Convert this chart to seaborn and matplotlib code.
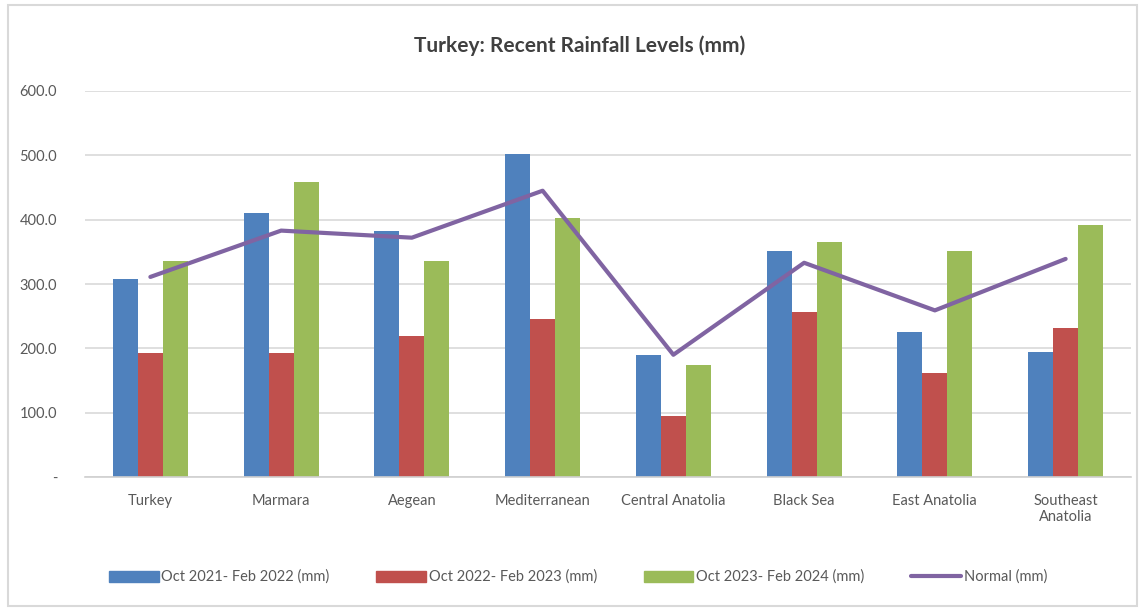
import pandas as pd
import seaborn as sns
import matplotlib.pyplot as plt
from matplotlib.patches import Patch, Rectangle
from matplotlib.lines import Line2D

regions = ["Turkey", "Marmara", "Aegean", "Mediterranean", "Central Anatolia",
           "Black Sea", "East Anatolia", "Southeast\nAnatolia"]
rain_2122 = [307, 410, 383, 502, 190, 351, 226, 195]
rain_2223 = [192, 192, 219, 246, 95, 256, 162, 231]
rain_2324 = [335, 459, 335, 402, 174, 365, 352, 392]
normal = [311, 383, 372, 445, 190, 333, 259, 339]

series_names = ["Oct 2021- Feb 2022 (mm)", "Oct 2022- Feb 2023 (mm)", "Oct 2023- Feb 2024 (mm)"]
bar_colors = ["#4F81BD", "#C0504D", "#9BBB59"]
line_color = "#8064A2"
yticks = [0, 100, 200, 300, 400, 500, 600]
ytick_labels = ["-", "100.0", "200.0", "300.0", "400.0", "500.0", "600.0"]

bars = pd.DataFrame({"Region": regions, series_names[0]: rain_2122,
                     series_names[1]: rain_2223, series_names[2]: rain_2324})
bars = bars.melt(id_vars="Region", var_name="Period", value_name="Rainfall")
norm = pd.DataFrame({"Region": regions, "Normal": normal})

sns.set_theme(style="white")
plt.rcParams["font.family"] = ["Lato", "DejaVu Sans"]
text_color = "#595959"

fig = plt.figure(figsize=(11.47, 6.12), dpi=100)
W, H = 1147, 612
ax = fig.add_axes([85 / W, 1 - 477 / H, (1131 - 85) / W, (477 - 91) / H])

sns.barplot(data=bars, x="Region", y="Rainfall", hue="Period", order=regions,
            hue_order=series_names, palette=bar_colors, width=0.575,
            saturation=1, errorbar=None, legend=False, linewidth=0, ax=ax, zorder=2)
sns.pointplot(data=norm, x="Region", y="Normal", order=regions, color=line_color,
              marker="", linewidth=3, errorbar=None, ax=ax, zorder=3)

ax.set_xlim(-0.5, len(regions) - 0.5)
ax.set_ylim(0, 600)
ax.set_yticks(yticks)
ax.set_yticklabels(ytick_labels)
ax.set_xlabel("")
ax.set_ylabel("")
ax.yaxis.grid(True, color="#D9D9D9", linewidth=1.2, zorder=0)
ax.set_axisbelow(True)
for s in ["top", "right", "left"]:
    ax.spines[s].set_visible(False)
ax.spines["bottom"].set_color("#D0D0D0")
ax.spines["bottom"].set_linewidth(1.2)
ax.tick_params(axis="both", length=0, colors=text_color, labelsize=10.5)
ax.tick_params(axis="y", pad=20)
ax.tick_params(axis="x", pad=12)

fig.text(580 / W, 1 - 46 / H, "Turkey: Recent Rainfall Levels (mm)", ha="center",
         va="center", fontsize=15, fontweight="bold", color="#404040")

handles = [Patch(facecolor=c, edgecolor=c) for c in bar_colors]
handles.append(Line2D([], [], color=line_color, linewidth=3))
fig.legend(handles, series_names + ["Normal (mm)"], loc="center",
           bbox_to_anchor=(578 / W, 1 - 577 / H), ncol=4, frameon=False,
           fontsize=10.5, handlelength=3.4, handleheight=0.8, handletextpad=0.2,
           columnspacing=3.2, labelcolor=text_color)

fig.patches.append(Rectangle((8 / W, 1 - 606 / H), (1137 - 8) / W, (606 - 5) / H,
                             transform=fig.transFigure, fill=False,
                             edgecolor="#D9D9D9", linewidth=1.5))

fig.savefig("out.png", dpi=100)
